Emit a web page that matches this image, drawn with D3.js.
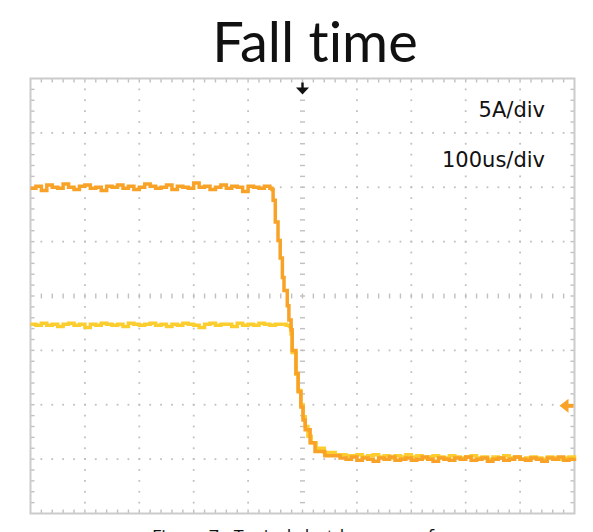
<!DOCTYPE html>
<html><head><meta charset="utf-8">
<script src="https://cdn.jsdelivr.net/npm/d3@7/dist/d3.min.js"></script>
<style>html,body{margin:0;padding:0;background:#fff;overflow:hidden}</style>
</head><body><svg id="c" width="593" height="532"></svg>
<script>
// ---- data (time in us, current in A; screen centre = 0) ----
const titleText = "Fall time";
const scaleLabels = ["5A/div", "100us/div"];
const captionText = "Figure 7a Typical shutdown waveform";
const timeDomain = [-500, 500];   // 10 div x 100us
const ampDomain = [-20, 20];      // 8 div x 5A
const orangeMarkerA = -10.1;      // channel marker at right edge

const orangeFlatT = [-500,-490,-480,-470,-460,-450,-440,-430,-420,-410,-400,-390,-380,-370,-360,-350,-340,-330,-320,-310,-300,-290,-280,-270,-260,-250,-240,-230,-220,-210,-200,-190,-180,-170,-160,-150,-140,-130,-120,-110,-100,-90,-80,-70,-60];
const orangeFlatA = [9.9,10.1,9.7,10.2,10.0,9.9,10.3,10.0,9.8,10.1,10.2,9.9,10.0,9.7,10.1,10.0,10.2,9.9,10.1,9.8,10.0,10.3,10.1,9.9,10.0,10.2,9.8,10.1,10.0,9.9,10.4,10.0,10.1,9.8,10.0,10.2,9.9,10.1,10.0,9.6,10.1,10.0,9.9,10.1,9.9];
const orangeFallT = [-56,-54,-50,-45,-41,-37,-34,-28,-25,-21,-19,-12,-8,-3,1,5,14,23,41,69];
const orangeFallA = [9.8,8.8,6.8,5.1,3.5,1.7,0.5,-0.9,-2.2,-3.1,-5.0,-7.1,-8.8,-10.2,-11.4,-12.3,-13.5,-14.3,-14.7,-14.9];
const orangeTailT = [80,90,100,110,120,130,140,150,160,170,180,190,200,210,220,230,240,250,260,270,280,290,300,310,320,330,340,350,360,370,380,390,400,410,420,430,440,450,460,470,480,490,500];
const orangeTailA = [-15.0,-14.8,-15.1,-14.9,-15.0,-15.2,-14.9,-15.0,-14.8,-15.1,-15.0,-14.9,-15.1,-15.0,-14.8,-15.0,-15.2,-14.9,-15.0,-15.1,-14.9,-15.0,-14.8,-15.1,-15.0,-14.9,-15.2,-15.0,-14.9,-15.1,-15.0,-14.8,-15.0,-15.1,-14.9,-15.0,-15.2,-14.9,-15.0,-14.8,-15.1,-15.0,-14.9];

const yellowFlatT = [-500,-490,-480,-470,-460,-450,-440,-430,-420,-410,-400,-390,-380,-370,-360,-350,-340,-330,-320,-310,-300,-290,-280,-270,-260,-250,-240,-230,-220,-210,-200,-190,-180,-170,-160,-150,-140,-130,-120,-110,-100,-90,-80,-70,-60,-50,-40,-30];
const yellowFlatA = [-2.6,-2.7,-2.5,-2.7,-2.6,-2.8,-2.6,-2.5,-2.7,-2.6,-2.9,-2.6,-2.7,-2.5,-2.6,-2.7,-2.6,-2.8,-2.5,-2.6,-2.7,-2.6,-2.5,-2.7,-2.6,-2.8,-2.6,-2.7,-2.5,-2.6,-2.7,-2.9,-2.6,-2.5,-2.7,-2.6,-2.6,-2.8,-2.5,-2.7,-2.6,-2.7,-2.5,-2.6,-2.7,-2.6,-2.6,-2.7];
const yellowFallT = [-24,-21,-19,-12,-8,-3,1,5,10,16,25,40,60,80];
const yellowFallA = [-2.8,-3.5,-5.2,-7.2,-8.7,-10.0,-11.1,-12.0,-12.9,-13.5,-14.0,-14.4,-14.6,-14.7];
const yellowTailT = [90,100,110,120,130,140,150,160,170,180,190,200,210,220,230,240,250,260,270,280,290,300,310,320,330,340,350,360,370,380,390,400,410,420,430,440,450,460,470,480,490,500];
const yellowTailA = [-14.7,-14.6,-14.8,-14.7,-14.6,-14.8,-14.7,-14.9,-14.7,-14.8,-14.6,-14.8,-14.7,-14.9,-14.8,-14.7,-14.8,-14.9,-14.7,-14.8,-14.9,-14.8,-14.7,-14.9,-14.8,-15.0,-14.8,-14.9,-14.7,-14.9,-14.8,-15.0,-14.9,-14.8,-14.9,-15.0,-14.8,-14.9,-15.0,-14.9,-14.8,-14.9];

// ---- drawing ----
const svg = d3.select("#c");
const L = 30.5, R = 574.5, T = 78.5, B = 513.5;
const x = d3.scaleLinear().domain(timeDomain).range([L, R]);
const y = d3.scaleLinear().domain(ampDomain).range([B, T]);
const gridC = "#c0c0c0";

const majorX = x.ticks(10), majorY = y.ticks(8);
const minorX = d3.range(timeDomain[0], timeDomain[1] + 1, 20);
const minorY = d3.range(ampDomain[0], ampDomain[1] + 0.01, 1);

const g = svg.append("g");
// dotted grid lines
majorX.filter(v => v !== 0 && v !== timeDomain[0] && v !== timeDomain[1]).forEach(v => {
  g.selectAll(null).data(minorY.slice(1, -1)).enter().append("rect")
    .attr("x", x(v) - 0.9).attr("y", d => y(d) - 0.9).attr("width", 1.8).attr("height", 1.8).attr("fill", gridC);
});
majorY.filter(v => v !== 0 && v !== ampDomain[0] && v !== ampDomain[1]).forEach(v => {
  g.selectAll(null).data(minorX.slice(1, -1)).enter().append("rect")
    .attr("x", d => x(d) - 0.9).attr("y", y(v) - 0.9).attr("width", 1.8).attr("height", 1.8).attr("fill", gridC);
});
// centre cross dashes
g.selectAll(null).data(minorY.slice(1, -1)).enter().append("line")
  .attr("x1", x(0) - 2.5).attr("x2", x(0) + 2.5).attr("y1", d => y(d)).attr("y2", d => y(d))
  .attr("stroke", gridC).attr("stroke-width", 1.4);
g.selectAll(null).data(minorX.slice(1, -1)).enter().append("line")
  .attr("y1", y(0) - 2.5).attr("y2", y(0) + 2.5).attr("x1", d => x(d)).attr("x2", d => x(d))
  .attr("stroke", gridC).attr("stroke-width", 1.4);
// edge ticks
const tk = 4;
g.selectAll(null).data(minorX.slice(1, -1)).enter().append("line")
  .attr("x1", d => x(d)).attr("x2", d => x(d)).attr("y1", T).attr("y2", T + tk).attr("stroke", gridC).attr("stroke-width", 1.4);
g.selectAll(null).data(minorX.slice(1, -1)).enter().append("line")
  .attr("x1", d => x(d)).attr("x2", d => x(d)).attr("y1", B).attr("y2", B - tk).attr("stroke", gridC).attr("stroke-width", 1.4);
g.selectAll(null).data(minorY.slice(1, -1)).enter().append("line")
  .attr("y1", d => y(d)).attr("y2", d => y(d)).attr("x1", L).attr("x2", L + tk).attr("stroke", gridC).attr("stroke-width", 1.4);
g.selectAll(null).data(minorY.slice(1, -1)).enter().append("line")
  .attr("y1", d => y(d)).attr("y2", d => y(d)).attr("x1", R).attr("x2", R - tk).attr("stroke", gridC).attr("stroke-width", 1.4);
// frame
g.append("rect").attr("x", L).attr("y", T).attr("width", R - L).attr("height", B - T)
  .attr("fill", "none").attr("stroke", "#cbcbcb").attr("stroke-width", 2);

// traces
const line = d3.line().x(d => x(d[0])).y(d => y(d[1])).curve(d3.curveStepAfter);
const zip = (ts, as) => ts.map((t, i) => [t, as[i]]);
const yellow = zip(yellowFlatT.concat(yellowFallT, yellowTailT), yellowFlatA.concat(yellowFallA, yellowTailA));
const orange = zip(orangeFlatT.concat(orangeFallT, orangeTailT), orangeFlatA.concat(orangeFallA, orangeTailA));
svg.append("path").attr("d", line(yellow)).attr("fill", "none").attr("stroke", "#fccd2e").attr("stroke-width", 3.5).attr("stroke-linejoin", "miter");
svg.append("path").attr("d", line(orange)).attr("fill", "none").attr("stroke", "#f8a228").attr("stroke-width", 3.5).attr("stroke-linejoin", "miter");

// trigger marker (top)
const tx = x(0), ty = T + 4;
svg.append("line").attr("x1", tx).attr("x2", tx).attr("y1", ty).attr("y2", ty + 8).attr("stroke", "#111").attr("stroke-width", 2.4);
svg.append("path").attr("d", `M${tx - 6.5},${ty + 5} L${tx + 6.5},${ty + 5} L${tx},${ty + 12} Z`).attr("fill", "#111");
// orange channel marker (right)
const my = y(orangeMarkerA), mx = R - 15;
svg.append("path").attr("d", `M${mx},${my} L${mx + 9},${my - 7} L${mx + 9},${my + 7} Z`).attr("fill", "#f8a228");
svg.append("line").attr("x1", mx + 6).attr("x2", R - 1).attr("y1", my).attr("y2", my).attr("stroke", "#f8a228").attr("stroke-width", 4);

// texts
svg.append("text").attr("x", 315).attr("y", 62).attr("text-anchor", "middle")
  .style("font-variant-ligatures", "none").style("font-feature-settings", "'liga' 0")
  .attr("font-family", "Lato, 'Open Sans', sans-serif").attr("font-size", 56).attr("fill", "#111").text(titleText);
svg.selectAll(null).data(scaleLabels).enter().append("text")
  .attr("x", 545).attr("y", (d, i) => 117 + i * 50).attr("text-anchor", "end")
  .attr("font-family", "'DejaVu Sans', sans-serif").attr("font-size", 21).attr("fill", "#111").text(d => d);
svg.append("text").attr("x", 152).attr("y", 543)
  .attr("font-family", "'Open Sans', sans-serif").attr("font-size", 18).attr("fill", "#111").text(captionText);
</script></body></html>
